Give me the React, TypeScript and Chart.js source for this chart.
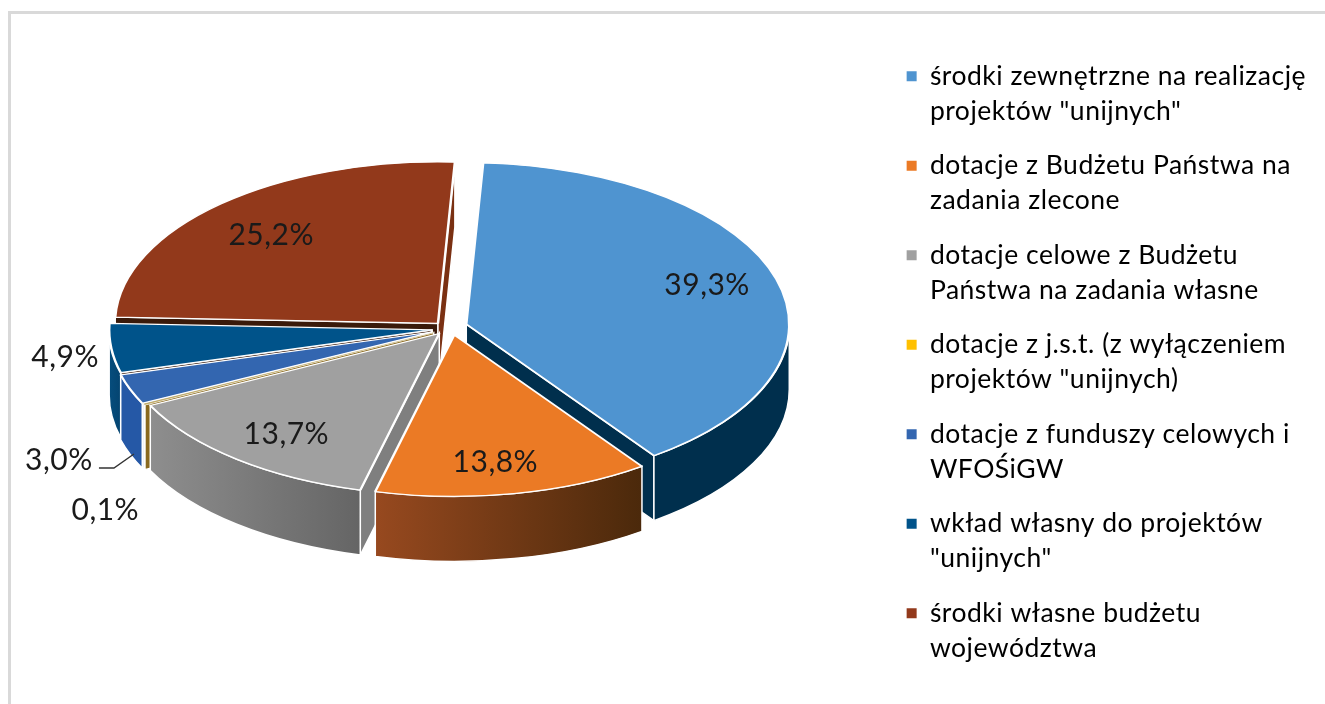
import React, { useEffect, useRef } from "react";
import { Chart, registerables } from "chart.js";

Chart.register(...registerables);

const categories = [
  ["środki zewnętrzne na realizację", 'projektów "unijnych"'],
  ["dotacje z Budżetu Państwa na", "zadania zlecone"],
  ["dotacje celowe z Budżetu", "Państwa na zadania własne"],
  ["dotacje z j.s.t. (z wyłączeniem", 'projektów "unijnych)'],
  ["dotacje z funduszy celowych i", "WFOŚiGW"],
  ["wkład własny do projektów", '"unijnych"'],
  ["środki własne budżetu", "województwa"],
];
const shares = [39.3, 13.8, 13.7, 0.1, 3.0, 4.9, 25.2];
const shareLabels = ["39,3%", "13,8%", "13,7%", "0,1%", "3,0%", "4,9%", "25,2%"];
const legendColors = ["#4f94d0", "#eb7a25", "#a0a0a0", "#ffc000", "#3366b0", "#00538a", "#92391b"];
const topColors = ["#4f94d0", "#eb7a25", "#a0a0a0", "#c9b36a", "#3366b0", "#00538a", "#92391b"];

const FONT = "Lato, Carlito, sans-serif";
const k = 0.5;
const topY = 329;
const depth = 65;
const explode = [20, 12, 14, 16, 17, 16, 15];
const driftX = [-1, 4, 0, 0, 0, 0, 0];
const driftY = [-4, 0, -2, 0, 0, 0, 0];
const rimFrom = ["#002f4d", "#97491f", "#8e8e8e", "#8a6a20", "#2558a6", "#064d7d", "#5a2410"];
const rimTo = ["#002f4d", "#4b290b", "#656565", "#8a6a20", "#2558a6", "#044470", "#5a2410"];
const startWall = ["#002f4d", "#6d3a16", "#7f7f7f", "#8a6a20", "#2558a6", "#3a1a0a", "#3a1a0a"];
const endWall = ["#002f4d", "#6d3a16", "#7f7f7f", "#8a6a20", "#2558a6", "#064d7d", "#7a3012"];
const labelFactor = [0.78, 0.77, 0.78, 1.1, 1.1, 1.1, 0.78];
const labelNudge = [[-1, -4], [-5, 5], [5, 3], [-10, 99], [-41, 65], [-14, 7], [3, 5]];
const leaderFromLabel = [[40, 8], [55, 8], [75, -6]];

const pie3d = {
  id: "pie3d",
  afterInit(chart: any) {
    chart.ctx.letterSpacing = "0.5px";
  },
  afterDatasetsUpdate(chart: any) {
    chart.getDatasetMeta(0).data.forEach((arc: any, i: number) => {
      const mid = (arc.startAngle + arc.endAngle) / 2;
      arc.x += Math.cos(mid) * explode[i] + driftX[i];
      arc.y += Math.sin(mid) * explode[i] + driftY[i];
    });
  },
  beforeDatasetsDraw(chart: any) {
    const ctx = chart.ctx;
    const arcs = chart.getDatasetMeta(0).data as any[];
    const cy = chart.chartArea.top + chart.chartArea.height / 2;
    const apply = () => {
      ctx.translate(0, topY);
      ctx.scale(1, k);
      ctx.translate(0, -cy);
    };
    const D = depth / k;
    const order = arcs
      .map((a, i) => {
        const mid = (a.startAngle + a.endAngle) / 2;
        return { a, i, s: Math.sin(mid) };
      })
      .sort((p, q) => p.s - q.s);
    const paint = (fill: any) => {
      ctx.fillStyle = fill;
      ctx.strokeStyle = "#ffffff";
      ctx.lineWidth = 1.5;
      ctx.fill();
      ctx.stroke();
    };
    order.forEach(({ a, i }) => {
      const R = a.outerRadius;
      const wall = (ang: number, color: string) => {
        ctx.save();
        apply();
        ctx.beginPath();
        ctx.moveTo(a.x, a.y);
        ctx.lineTo(a.x + R * Math.cos(ang), a.y + R * Math.sin(ang));
        ctx.lineTo(a.x + R * Math.cos(ang), a.y + R * Math.sin(ang) + D);
        ctx.lineTo(a.x, a.y + D);
        ctx.closePath();
        ctx.restore();
        paint(color);
      };
      if (Math.cos(a.startAngle) < 0) wall(a.startAngle, startWall[i]);
      if (Math.cos(a.endAngle) > 0) wall(a.endAngle, endWall[i]);
      for (let n = -1; n <= 1; n++) {
        const lo = Math.max(a.startAngle, 2 * Math.PI * n);
        const hi = Math.min(a.endAngle, 2 * Math.PI * n + Math.PI);
        if (hi <= lo) continue;
        const x0 = a.x + R * Math.cos(hi);
        const x1 = a.x + R * Math.cos(lo);
        const grad = ctx.createLinearGradient(Math.min(x0, x1), 0, Math.max(x0, x1), 0);
        grad.addColorStop(0, rimFrom[i]);
        grad.addColorStop(1, rimTo[i]);
        ctx.save();
        apply();
        ctx.beginPath();
        ctx.arc(a.x, a.y, R, lo, hi);
        ctx.arc(a.x, a.y + D, R, hi, lo, true);
        ctx.closePath();
        ctx.restore();
        paint(grad);
      }
    });
    ctx.save();
    apply();
  },
  afterDatasetsDraw(chart: any) {
    const ctx = chart.ctx;
    ctx.restore();
    const arcs = chart.getDatasetMeta(0).data as any[];
    const cy = chart.chartArea.top + chart.chartArea.height / 2;
    ctx.save();
    ctx.font = `30px ${FONT}`;
    ctx.fillStyle = "#1a1a1a";
    ctx.textAlign = "center";
    ctx.textBaseline = "middle";
    arcs.forEach((a, i) => {
      const mid = (a.startAngle + a.endAngle) / 2;
      const px = a.x + Math.cos(mid) * a.outerRadius * labelFactor[i] + labelNudge[i][0];
      const py = topY + (a.y + Math.sin(mid) * a.outerRadius * labelFactor[i] - cy) * k + labelNudge[i][1];
      ctx.fillText(shareLabels[i], px, py);
      if (i === 4) {
        ctx.beginPath();
        leaderFromLabel.forEach(([dx, dy], j) => {
          if (j === 0) ctx.moveTo(px + dx, py + dy);
          else ctx.lineTo(px + dx, py + dy);
        });
        ctx.strokeStyle = "#333333";
        ctx.lineWidth = 1.4;
        ctx.stroke();
      }
    });
    ctx.restore();
  },
};

export default function App() {
  const ref = useRef<HTMLCanvasElement>(null);
  useEffect(() => {
    const chart = new Chart(ref.current as HTMLCanvasElement, {
      type: "pie",
      plugins: [pie3d],
      data: {
        labels: categories.map((c) => c.join(" ")),
        datasets: [
          {
            data: shares,
            backgroundColor: topColors,
            borderColor: ["#fff", "#fff", "#fff", "#b9a25a", "#fff", "#fff", "#fff"],
            borderWidth: [2.5, 2.5, 2.5, 0.5, 2.5, 2.5, 2.5],
            clip: false,
          } as any,
        ],
      },
      options: {
        responsive: false,
        animation: false,
        rotation: 3,
        radius: 323,
        events: [],
        layout: { padding: { top: 29, bottom: 0, left: 9, right: 9 } },
        plugins: {
          tooltip: { enabled: false },
          legend: {
            position: "right",
            labels: {
              boxWidth: 10,
              boxHeight: 10,
              padding: 19.5,
              color: "#595959",
              font: { family: FONT, size: 26.5, lineHeight: "35px" as any },
              generateLabels: () =>
                categories.map((c, i) => ({
                  text: c,
                  fillStyle: legendColors[i],
                  strokeStyle: legendColors[i],
                  lineWidth: 0,
                  index: i,
                })) as any,
            },
          },
        },
      } as any,
    });
    return () => chart.destroy();
  }, []);
  return (
    <div style={{ position: "absolute", left: 0, top: 0, width: 1325, height: 704, overflow: "hidden", background: "#fff" }}>
      <canvas ref={ref} width={1325} height={704} style={{ position: "absolute", left: 0, top: 0 }} />
      <div style={{ position: "absolute", left: 8, top: 11, width: 1317, height: 693, borderLeft: "3px solid #d9d9d9", borderTop: "3px solid #d9d9d9", boxSizing: "border-box" }} />
    </div>
  );
}
